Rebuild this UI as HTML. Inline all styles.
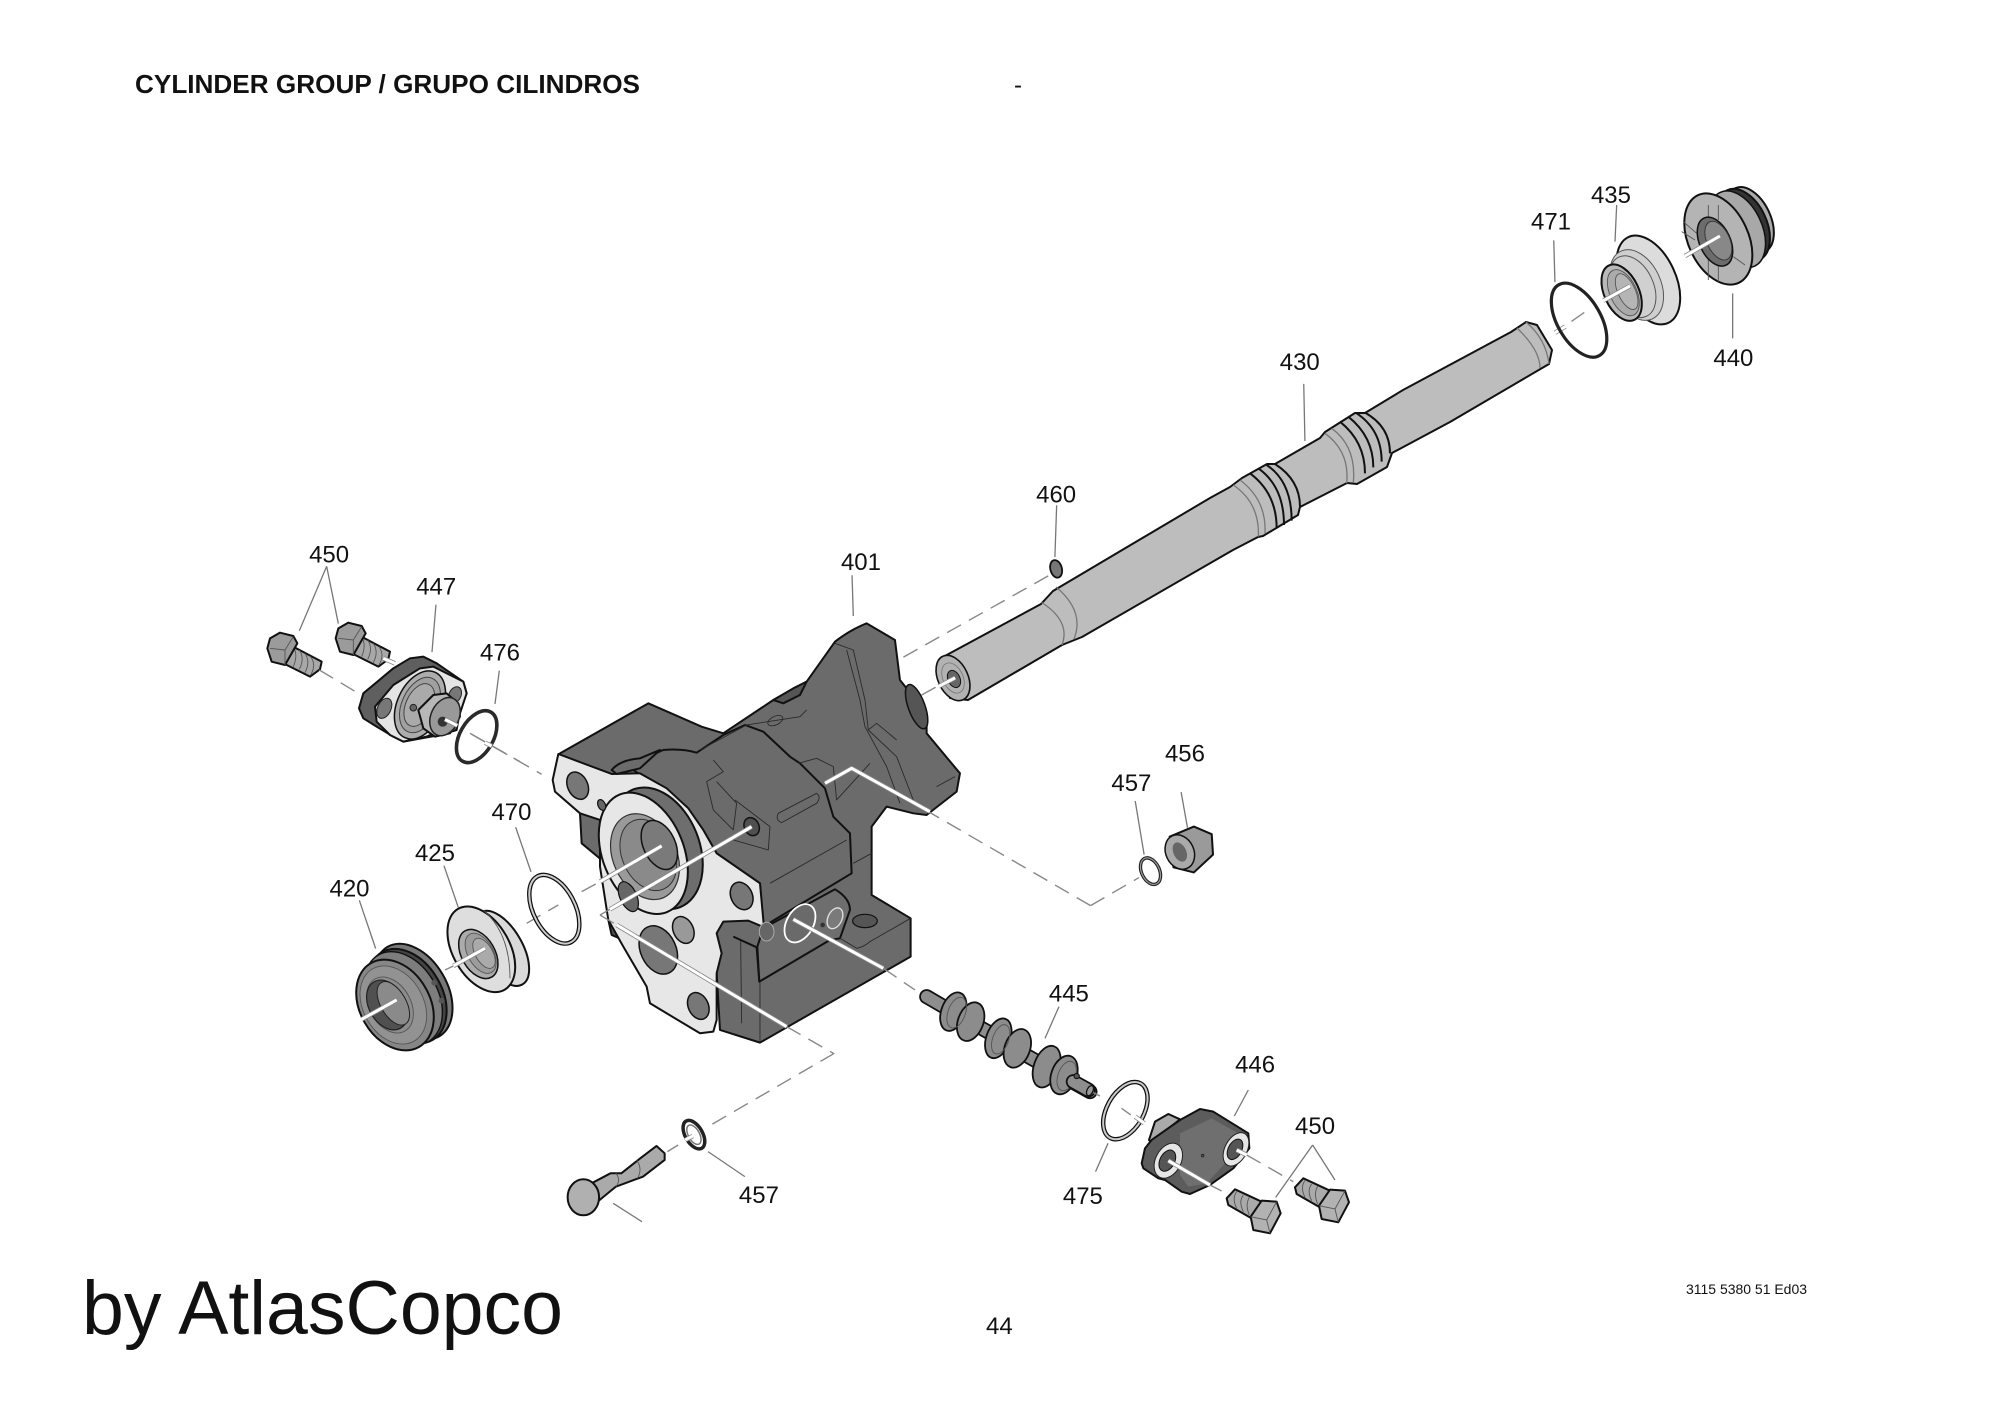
<!DOCTYPE html>
<html><head><meta charset="utf-8"><title>Cylinder group</title>
<style>
html,body{margin:0;padding:0;background:#fff;width:2000px;height:1414px;overflow:hidden}
svg{display:block}
svg *{vector-effect:non-scaling-stroke;stroke-linejoin:round}
text{font-family:"Liberation Sans",sans-serif;fill:#111;stroke:none}
.l{font-size:18.8px;text-anchor:middle}
.k{stroke:#111;stroke-width:2}
.t{stroke:#2a2a2a;stroke-width:.9;fill:none}
.g{stroke:#555;stroke-width:.9;fill:none}
.b{stroke:#111;stroke-width:2;fill:none}
.e{stroke:#777;stroke-width:1.3;fill:none}
.d{stroke:#888;stroke-width:1.4;fill:none;stroke-dasharray:16 9}
.wo{stroke:#888;stroke-width:4.6;fill:none}
.w{stroke:#fff;stroke-width:3;fill:none}
</style></head><body>
<svg width="2000" height="1414" viewBox="0 0 2000 1414" xmlns="http://www.w3.org/2000/svg">
<rect width="2000" height="1414" fill="#fff"/>

<!-- Housing -->
<g transform="translate(500,600) scale(.3333)">
 <path class="k" fill="#6b6b6b" d="M180,460 L445,310 L605,380 L670,400 L820,300 L920,245 L1005,125 Q1050,90 1100,70 L1185,120 L1200,240 L1280,340 L1280,400 L1380,520 L1370,575 L1280,645 L1240,640 L1160,620 L1115,680 L1115,885 L1232,955 L1232,1070 L780,1328 L660,1290 L650,1120 L340,1000 L305,780 L245,730 L240,640 Z"/>
 <path class="k" fill="#555" d="M325,960 L370,1020 L335,1005 Z"/>
 <path class="k" fill="#6b6b6b" d="M400,510 Q440,470 490,450 Q545,445 590,458 L670,405 L735,375 L790,395 L870,470 L900,490 L975,565 L1000,650 L1050,700 L1055,820 L790,980 L780,850 L650,760 L560,620 Z"/>
 <path class="t" d="M820,300 L880,270 M600,450 L740,375 L900,350 L920,330 M620,545 L670,515 L640,480 M620,545 L640,630 L700,690 M650,545 L710,610 L700,690 M705,600 L810,680 L805,750 L700,720 M1005,130 L1060,150 L1095,300 L1105,390 L1190,470 L1240,600 M1040,150 L1080,300 L1095,380 L1160,500 L1200,610 M1105,390 L1130,370 L1190,420 M895,490 L950,475 L1000,500 L1010,600 L1110,490 M1310,560 L1365,530 M810,850 L1040,720 M1060,790 L1115,760"/>
 <ellipse cx="826" cy="362" rx="24" ry="13" transform="rotate(-25 826 362)" fill="none" stroke="#2a2a2a" stroke-width=".9"/>
 <path class="t" d="M835,640 L950,580 Q965,590 950,610 L845,668 Q825,660 835,640 Z"/>
 <ellipse cx="755" cy="680" rx="22" ry="28" transform="rotate(-25 755 680)" fill="#505050" stroke="#111" stroke-width="1.5"/>
 <path class="k" fill="#555" d="M820,300 L880,265 L920,245 L900,285 L850,310 Z"/>
 <ellipse cx="1250" cy="320" rx="25" ry="70" transform="rotate(-20 1250 320)" fill="#555" stroke="#111" stroke-width="1.5"/>
 <path class="k" fill="#e7e7e7" d="M175,462 L335,522 L420,520 L500,565 L565,625 L610,690 L650,760 L780,850 L792,982 L745,962 L670,965 L650,1000 L665,1060 L650,1120 L650,1260 L640,1295 L600,1300 L450,1210 L440,1160 L370,1040 L325,960 L300,800 L300,660 L240,640 L165,575 L158,540 Z"/>
 <path class="k" fill="#6b6b6b" d="M335,510 Q360,480 420,475 L480,450 L420,505 L350,522 Z"/>
 <path class="t" d="M722,1020 L725,1270 M780,1145 L780,1328"/>
 <path class="b" d="M700,1010 L770,1042 L778,1145"/>
 <!-- port face and platform -->
 <path class="k" fill="#6e6e6e" d="M790,985 L1005,868 Q1050,895 1050,930 L1020,1015 L990,1020 L778,1145 L772,1040 Z"/>
 <path class="t" d="M1232,955 L1110,1025 Q1090,1042 1070,1045 L1020,1015"/>
 <ellipse cx="900" cy="970" rx="40" ry="62" transform="rotate(30 900 970)" fill="#6a6a6a" stroke="#fff" stroke-width="1.8"/>
 <ellipse cx="1005" cy="955" rx="21" ry="33" transform="rotate(25 1005 955)" fill="#7a7a7a" stroke="#ddd" stroke-width="1.4"/>
 <circle cx="968" cy="975" r="7" fill="#333"/>
 <ellipse cx="1095" cy="963" rx="37" ry="20" fill="#555" stroke="#111" stroke-width="1.2"/>
 <ellipse cx="800" cy="995" rx="22" ry="28" fill="#666" stroke="#aaa" stroke-width="1"/>
 <!-- bore -->
 <ellipse cx="470" cy="745" rx="128" ry="190" transform="rotate(-22 470 745)" fill="#6e6e6e" stroke="#111" stroke-width="2"/>
 <ellipse cx="430" cy="760" rx="122" ry="190" transform="rotate(-22 430 760)" fill="#e7e7e7" stroke="#111" stroke-width="2"/>
 <ellipse cx="435" cy="770" rx="95" ry="135" transform="rotate(-25 435 770)" fill="#9a9a9a" stroke="#333" stroke-width="1.2"/>
 <ellipse cx="445" cy="765" rx="78" ry="112" transform="rotate(-25 445 765)" fill="#8a8a8a" stroke="#333" stroke-width="1"/>
 <ellipse cx="478" cy="735" rx="48" ry="78" transform="rotate(-25 478 735)" fill="#7a7a7a" stroke="#111" stroke-width="1.5"/>
 <!-- flange holes -->
 <ellipse cx="233" cy="557" rx="30" ry="43" transform="rotate(-25 233 557)" fill="#777" stroke="#111" stroke-width="1.5"/>
 <ellipse cx="305" cy="615" rx="11" ry="17" transform="rotate(-25 305 615)" fill="#666" stroke="#111" stroke-width="1.2"/>
 <ellipse cx="725" cy="888" rx="32" ry="43" transform="rotate(-25 725 888)" fill="#777" stroke="#111" stroke-width="1.5"/>
 <ellipse cx="550" cy="990" rx="30" ry="42" transform="rotate(-25 550 990)" fill="#999" stroke="#111" stroke-width="1.5"/>
 <ellipse cx="475" cy="1050" rx="53" ry="76" transform="rotate(-25 475 1050)" fill="#777" stroke="#111" stroke-width="1.5"/>
 <ellipse cx="595" cy="1218" rx="30" ry="42" transform="rotate(-25 595 1218)" fill="#777" stroke="#111" stroke-width="1.5"/>
 <ellipse cx="385" cy="890" rx="25" ry="48" transform="rotate(-25 385 890)" fill="#666" stroke="#111" stroke-width="1.2"/>
 <!-- center lines -->
 <path class="d" d="M245,875 L300,845 M80,970 L175,915 M300,945 L330,928 M300,945 L350,975 M860,1280 L1000,1360 M1150,1105 L1245,1170 M1265,285 L1310,260"/>
 <path class="wo" d="M300,845 L485,738 M330,928 L755,680 M350,975 L860,1280 M975,550 L1055,505 L1290,635 M880,958 L1150,1105"/>
 <path class="w" d="M300,845 L485,738 M330,928 L755,680 M350,975 L860,1280 M975,550 L1055,505 L1290,635 M880,958 L1150,1105"/>
</g>

<!-- 420 and 425 -->
<g transform="translate(350,890) scale(.3333)">
 <ellipse cx="190" cy="305" rx="102" ry="155" transform="rotate(-30 190 305)" fill="#777" stroke="#111" stroke-width="2"/>
 <ellipse cx="172" cy="318" rx="104" ry="152" transform="rotate(-30 172 318)" fill="#444" stroke="#111" stroke-width="2"/>
 <ellipse cx="160" cy="325" rx="104" ry="150" transform="rotate(-30 160 325)" fill="#7d7d7d" stroke="#111" stroke-width="1.4"/>
 <ellipse cx="135" cy="345" rx="105" ry="145" transform="rotate(-30 135 345)" fill="#868686" stroke="#111" stroke-width="2"/>
 <ellipse cx="130" cy="345" rx="90" ry="125" transform="rotate(-30 130 345)" fill="#929292" stroke="#555" stroke-width=".9"/>
 <ellipse cx="120" cy="345" rx="62" ry="90" transform="rotate(-30 120 345)" fill="#8c8c8c" stroke="#555" stroke-width=".9"/>
 <ellipse cx="112" cy="345" rx="55" ry="80" transform="rotate(-30 112 345)" fill="#505050" stroke="#222" stroke-width="1.2"/>
 <ellipse cx="130" cy="340" rx="38" ry="72" transform="rotate(-30 130 340)" fill="#8a8a8a" stroke="#222" stroke-width="1"/>
 <circle cx="253" cy="278" r="9" fill="#555"/><circle cx="275" cy="332" r="9" fill="#555"/>
 <ellipse cx="455" cy="175" rx="62" ry="125" transform="rotate(-30 455 175)" fill="#dadada" stroke="#111" stroke-width="2"/>
 <ellipse cx="394" cy="178" rx="85" ry="140" transform="rotate(-30 394 178)" fill="#dedede" stroke="#111" stroke-width="2"/>
 <path class="g" d="M400,60 Q480,130 480,265"/>
 <ellipse cx="385" cy="192" rx="50" ry="80" transform="rotate(-30 385 192)" fill="#ababab" stroke="#111" stroke-width="1.5"/>
 <ellipse cx="392" cy="190" rx="38" ry="66" transform="rotate(-30 392 190)" fill="#9c9c9c" stroke="#555" stroke-width=".9"/>
 <ellipse cx="402" cy="190" rx="26" ry="50" transform="rotate(-30 402 190)" fill="#aaa" stroke="#555" stroke-width=".9"/>
 <path class="wo" d="M35,388 L140,330 M310,228 L405,175"/><path class="w" d="M35,388 L140,330 M310,228 L405,175"/>
 <path class="d" d="M285,240 L310,228"/>
</g>
<g transform="translate(230,520) scale(.3333,.3571)">
 <path class="e" d="M290,130 L208,310 M290,130 L325,290 M618,237 L606,370 M808,422 L795,515 M857,860 L903,985 M642,968 L685,1085 M388,1065 L437,1200"/>
 <path class="d" d="M725,600 L935,712"/>
 <ellipse cx="973" cy="1090" rx="62" ry="105" transform="rotate(-30 973 1090)" fill="none" stroke="#111" stroke-width="4.5"/>
 <ellipse cx="973" cy="1090" rx="62" ry="105" transform="rotate(-30 973 1090)" fill="none" stroke="#ccc" stroke-width="2"/>
</g>

<!-- 450 bolts left and 447 -->
<g transform="translate(260,610) scale(.3333)">
 <path class="k" fill="#a8a8a8" d="M90,105 L185,155 L180,178 L150,200 L60,155 Z"/>
 <path class="g" d="M100,110 Q115,135 100,170 M118,120 Q135,145 118,178 M135,130 Q152,155 135,188 M152,140 Q170,165 152,195"/>
 <path class="k" fill="#9b9b9b" d="M22,115 L30,85 L60,68 L100,78 L112,100 L75,165 L35,155 Z"/>
 <path class="g" d="M30,115 L75,120 L100,80 M75,120 L75,165"/>
 <path class="k" fill="#a8a8a8" d="M295,75 L390,125 L385,148 L355,170 L265,125 Z"/>
 <path class="g" d="M305,80 Q320,105 305,140 M323,90 Q340,115 323,148 M340,100 Q357,125 340,158 M357,110 Q375,135 357,165"/>
 <path class="k" fill="#9b9b9b" d="M227,85 L235,55 L265,38 L305,48 L317,70 L280,135 L240,125 Z"/>
 <path class="g" d="M235,85 L280,90 L305,50 M280,90 L280,135"/>
 <path class="k" fill="#5f5f5f" d="M297,295 L310,250 L400,175 L450,145 L490,140 L530,160 L610,215 L620,250 L600,300 L590,360 L540,375 L430,395 L400,380 L350,350 L310,325 Z"/>
 <path class="k" fill="#e4e4e4" d="M345,290 L400,225 L480,175 L520,170 L610,215 L620,250 L590,340 L500,380 L430,395 L390,375 L350,335 Z"/>
 <ellipse cx="373" cy="295" rx="20" ry="32" transform="rotate(25 373 295)" fill="#777" stroke="#222" stroke-width="1"/>
 <ellipse cx="585" cy="255" rx="18" ry="26" transform="rotate(25 585 255)" fill="#777" stroke="#222" stroke-width="1"/>
 <ellipse cx="480" cy="285" rx="68" ry="108" transform="rotate(25 480 285)" fill="#adadad" stroke="#111" stroke-width="1.5"/>
 <ellipse cx="480" cy="285" rx="54" ry="88" transform="rotate(25 480 285)" fill="#a0a0a0" stroke="#444" stroke-width="1"/>
 <ellipse cx="478" cy="285" rx="40" ry="68" transform="rotate(25 478 285)" fill="#aaa" stroke="#444" stroke-width="1"/>
 <circle cx="460" cy="293" r="10" fill="#666" stroke="#222" stroke-width="1"/>
 <path class="k" fill="#b7b7b7" d="M475,300 L520,255 L560,250 L595,280 L600,320 L570,370 L525,380 L490,355 Z"/>
 <ellipse cx="555" cy="320" rx="42" ry="60" transform="rotate(25 555 320)" fill="#999" stroke="#222" stroke-width="1.5"/>
 <circle cx="548" cy="335" r="15" fill="#333"/>
 <ellipse cx="650" cy="380" rx="50" ry="85" transform="rotate(30 650 380)" fill="none" stroke="#2a2a2a" stroke-width="3.6"/>
 <path class="d" d="M178,180 L295,250 M630,370 L780,455"/>
 <path class="wo" d="M370,145 L405,160 M555,328 L592,347 M675,398 L695,408"/><path class="w" d="M370,145 L405,160 M555,328 L592,347 M675,398 L695,408"/>
</g>

<!-- Shaft (native coordinates) -->
<path class="k" fill="#bdbdbd" d="M943,657 L1041,604 L1053,591 L1210,498 L1230,487 L1242,478 L1267,464 L1275,464 L1320,438 L1325,432 L1355,413 L1365,413 L1403,390 L1511,332 L1526,322 L1537,325 L1552,350 L1549,364 L1450,422 L1392,453 L1387,467 L1357,484 L1347,483 L1300,507 L1298,515 L1263,536 L1258,537 L1233,550 L1082,637 L1062,645 L968,700 L950,698 L939,675 Z"/>
<path class="e" d="M1056,587 Q1085,611 1074,639 M1041,602 Q1071,621 1062,645 M1526,322 Q1546,339 1549,364 M1517,328 Q1540,350 1540,368"/>
<ellipse cx="953" cy="678" rx="15" ry="24" transform="rotate(-25 953 678)" fill="#b2b2b2" stroke="#111" stroke-width="1.6"/>
<ellipse cx="953" cy="678" rx="10" ry="16" transform="rotate(-25 953 678)" fill="none" stroke="#777" stroke-width=".8"/>
<ellipse cx="954" cy="679" rx="6" ry="9" transform="rotate(-25 954 679)" fill="#666" stroke="#111" stroke-width="1"/>
<g transform="translate(1210,390) scale(.3333)">
 <path class="b" d="M195,222 Q270,270 270,350 M170,225 Q245,275 245,392 M145,235 Q222,290 222,405 M120,250 Q200,310 200,415 M465,68 Q540,110 540,190 M440,70 Q515,120 515,215 M415,80 Q490,140 490,232 M390,95 Q465,155 465,250"/>
 <path class="e" d="M90,270 Q170,330 165,430 M70,285 Q150,340 145,440 M365,115 Q440,170 430,278 M345,130 Q420,185 410,280"/>
</g>
<g transform="translate(880,150) scale(.5869,.3571)">
 <path class="wo" d="M100,1502 L128,1478 M1150,512 L1168,494"/><path class="w" d="M100,1502 L128,1478 M1150,512 L1168,494"/>
 <path class="d" d="M40,1420 L295,1185 M1178,480 L1200,455"/>
 <path class="e" d="M1148,253 L1150,370 M722,655 L724,815 M301,995 L298,1140"/>
</g>

<!-- 435, 440 -->
<g transform="translate(1580,170) scale(.3333)">
 <path class="e" d="M110,105 L105,215 M458,370 L458,505"/>
 <ellipse cx="205" cy="330" rx="82" ry="142" transform="rotate(-25 205 330)" fill="#dcdcdc" stroke="#111" stroke-width="2"/>
 <ellipse cx="170" cy="345" rx="72" ry="112" transform="rotate(-25 170 345)" fill="#cfcfcf" stroke="#555" stroke-width="1"/>
 <ellipse cx="158" cy="350" rx="62" ry="98" transform="rotate(-25 158 350)" fill="#d0d0d0" stroke="#555" stroke-width="1"/>
 <ellipse cx="125" cy="368" rx="52" ry="90" transform="rotate(-25 125 368)" fill="#b8b8b8" stroke="#111" stroke-width="2"/>
 <ellipse cx="130" cy="368" rx="40" ry="74" transform="rotate(-25 130 368)" fill="#aaa" stroke="#555" stroke-width=".9"/>
 <ellipse cx="140" cy="365" rx="26" ry="58" transform="rotate(-25 140 365)" fill="#b5b5b5" stroke="#555" stroke-width=".9"/>
 <ellipse cx="510" cy="150" rx="62" ry="105" transform="rotate(-25 510 150)" fill="#aaa" stroke="#111" stroke-width="2"/>
 <ellipse cx="490" cy="165" rx="70" ry="115" transform="rotate(-25 490 165)" fill="#333" stroke="#111" stroke-width="2"/>
 <ellipse cx="472" cy="178" rx="74" ry="122" transform="rotate(-25 472 178)" fill="#a8a8a8" stroke="#111" stroke-width="1.5"/>
 <ellipse cx="415" cy="207" rx="90" ry="145" transform="rotate(-25 415 207)" fill="#b4b4b4" stroke="#111" stroke-width="2"/>
 <path class="g" d="M385,105 L385,175 M415,105 L415,150 M385,265 L385,330 M415,285 L415,335 M310,155 L350,190 M460,260 L495,285 M305,185 L345,210"/>
 <ellipse cx="405" cy="215" rx="46" ry="78" transform="rotate(-25 405 215)" fill="#6c6c6c" stroke="#111" stroke-width="1.5"/>
 <ellipse cx="415" cy="212" rx="34" ry="62" transform="rotate(-25 415 212)" fill="#888" stroke="#333" stroke-width=".9"/>
 <path class="wo" d="M70,392 L150,348 M315,258 L420,198"/><path class="w" d="M70,392 L150,348 M315,258 L420,198"/>
</g>

<!-- 445 spool -->
<g transform="translate(910,970) scale(.3333)">
 <path class="e" d="M447,110 L405,205"/>
 <path fill="none" stroke="#111" stroke-width="15" stroke-linecap="round" d="M50,80 L110,115 M170,150 L260,200 M320,240 L400,285 M460,320 L540,365"/>
 <path fill="none" stroke="#8e8e8e" stroke-width="11.5" stroke-linecap="round" d="M50,80 L110,115 M170,150 L260,200 M320,240 L400,285 M460,320 L540,365"/>
 <g stroke="#111" stroke-width="1.8" fill="#8c8c8c">
  <ellipse cx="130" cy="125" rx="36" ry="60" transform="rotate(20 130 125)"/>
  <ellipse cx="182" cy="155" rx="38" ry="60" transform="rotate(20 182 155)"/>
  <ellipse cx="265" cy="205" rx="36" ry="62" transform="rotate(20 265 205)"/>
  <ellipse cx="322" cy="235" rx="38" ry="60" transform="rotate(20 322 235)"/>
  <ellipse cx="410" cy="290" rx="38" ry="65" transform="rotate(20 410 290)"/>
  <ellipse cx="462" cy="315" rx="38" ry="60" transform="rotate(20 462 315)"/>
 </g>
 <g class="g"><ellipse cx="140" cy="128" rx="26" ry="48" transform="rotate(20 140 128)" fill="none" stroke="#555" stroke-width=".9"/>
 <ellipse cx="272" cy="208" rx="24" ry="46" transform="rotate(20 272 208)" fill="none" stroke="#555" stroke-width=".9"/>
 <ellipse cx="470" cy="318" rx="26" ry="46" transform="rotate(20 470 318)" fill="none" stroke="#555" stroke-width=".9"/></g>
 <path fill="none" stroke="#111" stroke-width="15" stroke-linecap="round" d="M490,335 L535,360"/>
 <path fill="none" stroke="#8e8e8e" stroke-width="11.5" stroke-linecap="round" d="M490,335 L535,360"/>
 <circle cx="500" cy="318" r="8" fill="#555" stroke="#111" stroke-width="1"/>
 <ellipse cx="540" cy="362" rx="9" ry="16" transform="rotate(25 540 362)" fill="#999" stroke="#111" stroke-width="1.3"/>
 <path class="d" style="stroke-dasharray:8 6" d="M550,368 L570,378"/>
</g>

<!-- 446 and right 450 bolts -->
<g transform="translate(1130,1090) scale(.3333)">
 <path class="e" d="M355,0 L313,78 M548,165 L437,322 M548,165 L615,270"/>
 <path class="k" fill="#aaa" d="M57,150 L75,95 L115,72 L150,88 L65,158 Z"/>
 <path class="k" fill="#5c5c5c" d="M35,220 L45,175 L65,150 L150,90 L210,57 L250,65 L355,130 L358,175 L310,235 L240,285 L180,312 L155,305 L105,270 L85,265 L40,235 Z"/>
 <path fill="#6f6f6f" d="M150,130 L245,85 L325,130 L285,220 L230,280 L175,290 L150,255 Z"/>
 <ellipse cx="115" cy="212" rx="38" ry="56" transform="rotate(28 115 212)" fill="#e6e6e6" stroke="#222" stroke-width="1"/>
 <ellipse cx="112" cy="212" rx="22" ry="34" transform="rotate(28 112 212)" fill="#555" stroke="#111" stroke-width="1"/>
 <ellipse cx="318" cy="178" rx="33" ry="54" transform="rotate(28 318 178)" fill="#e6e6e6" stroke="#222" stroke-width="1"/>
 <ellipse cx="315" cy="178" rx="20" ry="33" transform="rotate(28 315 178)" fill="#555" stroke="#111" stroke-width="1"/>
 <circle cx="218" cy="197" r="4" fill="#555" stroke="#222" stroke-width=".8"/>
 <path class="d" d="M240,285 L275,303 M350,195 L490,275"/>
 <path class="wo" d="M115,212 L240,285 M320,180 L350,195"/><path class="w" d="M115,212 L240,285 M320,180 L350,195"/>
 <path class="k" fill="#aaa" d="M290,325 L315,298 L395,335 L365,385 L295,345 Z"/>
 <path class="g" d="M320,305 Q305,325 320,355 M340,315 Q325,335 340,365 M358,322 Q345,345 358,375"/>
 <path class="k" fill="#b2b2b2" d="M362,380 L395,332 L440,335 L452,370 L420,430 L370,420 Z"/>
 <path class="g" d="M362,380 L410,390 L440,335 M410,390 L420,430"/>
 <path class="k" fill="#aaa" d="M495,292 L520,265 L600,302 L570,352 L500,312 Z"/>
 <path class="g" d="M525,272 Q510,292 525,322 M545,282 Q530,302 545,332 M563,289 Q550,312 563,342"/>
 <path class="k" fill="#b2b2b2" d="M567,347 L600,299 L645,302 L657,337 L625,397 L575,387 Z"/>
 <path class="g" d="M567,347 L615,357 L645,302 M615,357 L625,397"/>
</g>

<!-- Lower leaders, 457 bolt, ring 475 -->
<g transform="translate(540,960) scale(.542,.3333)">
 <path class="e" d="M1048,550 L1025,635 M310,575 L378,650 M135,730 L188,785"/>
 <path class="k" fill="#aaa" d="M95,670 L130,640 L150,640 L185,595 L215,558 L230,580 L230,600 L190,650 L140,680 L110,720 Z"/>
 <path class="g" d="M140,640 Q150,660 140,680 M178,600 Q190,625 180,655"/>
 <ellipse cx="80" cy="712" rx="29" ry="54" fill="#b0b0b0" stroke="#111" stroke-width="2"/>
 <ellipse cx="284" cy="524" rx="17" ry="44" transform="rotate(-15 284 524)" fill="none" stroke="#222" stroke-width="3.5"/>
 <ellipse cx="284" cy="524" rx="11" ry="30" transform="rotate(-15 284 524)" fill="none" stroke="#777" stroke-width="1.5"/>
 <ellipse cx="1080" cy="452" rx="36" ry="88" transform="rotate(14 1080 452)" fill="none" stroke="#111" stroke-width="4.5"/>
 <ellipse cx="1080" cy="452" rx="36" ry="88" transform="rotate(14 1080 452)" fill="none" stroke="#ccc" stroke-width="2"/>
 <path class="d" d="M543,280 L312,498 M235,575 L255,555 M1073,445 L1090,465"/>
 <path class="wo" d="M1098,470 L1115,490 M268,540 L282,528"/><path class="w" d="M1098,470 L1115,490 M268,540 L282,528"/>
</g>

<!-- Parts in overview coordinates -->
<g transform="scale(1.2755)">
 <ellipse cx="1238" cy="251" rx="17" ry="32" transform="rotate(-30 1238 251)" fill="none" stroke="#222" stroke-width="3.2"/>
 <ellipse cx="902" cy="683" rx="7" ry="11" transform="rotate(-25 902 683)" fill="none" stroke="#222" stroke-width="3.4"/>
 <ellipse cx="902" cy="683" rx="7" ry="11" transform="rotate(-25 902 683)" fill="none" stroke="#999" stroke-width="1.2"/>
 <path class="k" fill="#9a9a9a" d="M917,656 L936,648 L950,654 L951,670 L936,684 L920,680 Z"/>
 <ellipse cx="925" cy="668" rx="11" ry="14" transform="rotate(-25 925 668)" fill="#aaa" stroke="#111" stroke-width="1.5"/>
 <ellipse cx="925" cy="668" rx="5" ry="8" transform="rotate(-25 925 668)" fill="#666"/>
 <ellipse cx="828" cy="446" rx="4.5" ry="7" transform="rotate(-15 828 446)" fill="#777" stroke="#111" stroke-width="1.8"/>
 <path class="d" d="M855,710 L893,688 M855,710 L729,637"/>
 <path class="e" d="M926,621 L931,649 M890,628 L897,670 M668,451 L669,483"/>
 <text class="l" x="1263" y="159">435</text>
 <text class="l" x="1216" y="180">471</text>
 <text class="l" x="1359" y="287">440</text>
 <text class="l" x="1019" y="290">430</text>
 <text class="l" x="828" y="394">460</text>
 <text class="l" x="675" y="447">401</text>
 <text class="l" x="258" y="441">450</text>
 <text class="l" x="342" y="466">447</text>
 <text class="l" x="392" y="518">476</text>
 <text class="l" x="929" y="597">456</text>
 <text class="l" x="887" y="620">457</text>
 <text class="l" x="401" y="643">470</text>
 <text class="l" x="341" y="675">425</text>
 <text class="l" x="274" y="703">420</text>
 <text class="l" x="838" y="785">445</text>
 <text class="l" x="984" y="841">446</text>
 <text class="l" x="1031" y="889">450</text>
 <text class="l" x="595" y="943">457</text>
 <text class="l" x="849" y="944">475</text>
</g>

<text x="135" y="93" font-size="26" font-weight="bold" textLength="505" lengthAdjust="spacingAndGlyphs">CYLINDER GROUP / GRUPO CILINDROS</text>
<text x="1014" y="93" font-size="24">-</text>
<text x="82" y="1334" font-size="76" textLength="481" lengthAdjust="spacingAndGlyphs">by AtlasCopco</text>
<text x="986" y="1334" font-size="24">44</text>
<text x="1686" y="1294" font-size="14" textLength="121" lengthAdjust="spacingAndGlyphs">3115 5380 51 Ed03</text>
</svg>
</body></html>
